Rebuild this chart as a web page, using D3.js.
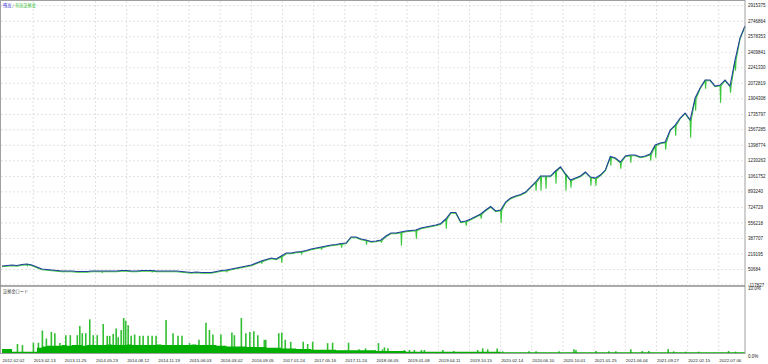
<!DOCTYPE html>
<html>
<head>
<meta charset="utf-8">
<script src="https://cdn.jsdelivr.net/npm/d3@7"></script>
<style>
  body { margin: 0; background: #fff; }
  text { font-family: "Liberation Sans", Arial, sans-serif; }
</style>
</head>
<body>
<div id="chart"></div>
<script>
// DATA (balance sampled every 10 trades)
const balance = [
  88500, 93900, 99400, 93900, 104800, 110200, 99400, 77600, 55900, 50500,
  45100, 39600, 34200, 34200, 34200, 28800, 28800, 28800, 34200, 34200,
  34200, 34200, 34200, 34200, 39600, 39600, 34200, 34200, 39600, 39600,
  39600, 34200, 34200, 34200, 34200, 34200, 28800, 23400, 17900, 23400,
  17900, 17900, 17900, 28800, 39600, 45100, 55900, 66800, 77600, 88500,
  99400, 121100, 142800, 159100, 175400, 164500, 197100, 229700, 229700, 240500,
  245900, 256800, 273100, 283900, 294800, 305700, 316500, 321900, 332800, 338200,
  403400, 403400, 381700, 370800, 354500, 360000, 370800, 414200, 446800, 446800,
  457700, 468500, 474000, 479400, 501100, 512000, 522800, 533700, 550000, 598800,
  669400, 669400, 566300, 577100, 598800, 626000, 653100, 696600, 734600, 685700,
  696600, 783400, 826800, 848600, 864800, 892000, 946300, 1000600, 1065700, 1065700,
  1065700, 1120000, 1166700, 1087400, 1022300, 1044000, 1065700, 1109100, 1054900, 1044000,
  1076600, 1130900, 1277500, 1261200, 1217700, 1282900, 1293700, 1293700, 1272000, 1282900,
  1304600, 1402300, 1424000, 1434900, 1565200, 1619500, 1695500, 1749800, 1673800, 1912600,
  2021200, 2108100, 2108100, 2042900, 2053800, 2108100, 2042900, 2325300, 2564100, 2694400
];

// how far equity fell below balance in each step
const equityDip = [
  0, 0, 0, 0, 0, 11000, 0, 0, 0, 0,
  0, 0, 0, 0, 0, 0, 0, 0, 0, 0,
  8000, 0, 0, 0, 0, 0, 0, 0, 0, 0,
  8000, 0, 0, 0, 0, 0, 0, 0, 0, 0,
  0, 0, 0, 0, 0, 11000, 0, 0, 0, 0,
  0, 0, 22000, 0, 0, 0, 65000, 0, 0, 0,
  16000, 0, 0, 0, 22000, 0, 0, 0, 38000, 0,
  0, 0, 0, 43000, 0, 0, 22000, 0, 0, 0,
  141000, 0, 0, 87000, 0, 0, 0, 0, 0, 98000,
  0, 0, 0, 43000, 0, 0, 43000, 0, 0, 0,
  130000, 0, 0, 0, 0, 0, 0, 87000, 152000, 130000,
  0, 130000, 0, 174000, 76000, 0, 0, 0, 87000, 76000,
  0, 0, 92000, 0, 65000, 0, 76000, 0, 0, 0,
  65000, 130000, 0, 76000, 0, 109000, 0, 0, 185000, 130000,
  0, 87000, 0, 0, 185000, 0, 65000, 109000, 0, 0
];

// margin load (%), base level per step
const loadBase = [
  0.6, 0.6, 0.2, 0.2, 0.2, 0.2, 0.2, 0.8, 1.0, 1.1,
  1.1, 1.1, 1.2, 1.1, 1.2, 1.2, 1.1, 1.2, 1.2, 1.2,
  1.2, 1.3, 1.2, 1.2, 1.2, 1.3, 1.2, 1.2, 1.2, 1.2,
  1.2, 1.3, 1.2, 1.2, 1.2, 1.2, 1.2, 1.2, 1.3, 1.2,
  1.2, 1.2, 1.2, 1.1, 1.1, 1.0, 1.0, 1.0, 1.0, 0.9,
  0.9, 0.9, 0.9, 0.8, 0.8, 0.8, 0.7, 0.7, 0.7, 0.6,
  0.6, 0.6, 0.5, 0.5, 0.5, 0.5, 0.5, 0.4, 0.4, 0.4,
  0.4, 0.4, 0.4, 0.4, 0.4, 0.3, 0.3, 0.3, 0.3, 0.3,
  0.3, 0.2, 0.2, 0.2, 0.2, 0.2, 0.2, 0.2, 0.2, 0.2,
  0.2, 0.2, 0.2, 0.2, 0.2, 0.2, 0.2, 0.2, 0.2, 0.2,
  0.12, 0.12, 0.12, 0.12, 0.12, 0.12, 0.12, 0.12, 0.12, 0.12,
  0.12, 0.12, 0.12, 0.12, 0.12, 0.12, 0.12, 0.12, 0.12, 0.12,
  0.12, 0.12, 0.12, 0.12, 0.12, 0.12, 0.12, 0.12, 0.12, 0.12,
  0.12, 0.12, 0.12, 0.12, 0.12, 0.12, 0.12, 0.12, 0.12, 0.12,
  0.12, 0.12, 0.12, 0.12, 0.12, 0.12, 0.12, 0.12, 0.12, 0.12
];

// margin load spikes: [trade number, %]
const loadSpikes = [
  [9, 0.56], [31, 1.36], [41, 1.2], [63, 1.56], [73, 1.56], [81, 3.4], [89, 2.2], [99, 3.2],
  [106, 3.0], [116, 1.5], [128, 2.7], [137, 2.7], [151, 2.7], [156, 4.1], [161, 3.0], [168, 3.0],
  [176, 5.1], [183, 2.7], [191, 2.7], [203, 4.4], [211, 2.6], [216, 2.6], [223, 2.9], [229, 3.7],
  [233, 2.4], [239, 3.5], [244, 5.3], [248, 4.9], [253, 4.2], [259, 2.6], [266, 2.8], [276, 2.6],
  [283, 2.6], [293, 2.6], [301, 2.6], [309, 2.6], [329, 5.0], [343, 3.0], [353, 2.6], [361, 2.6],
  [376, 1.5], [395, 2.0], [409, 4.6], [416, 3.5], [423, 2.8], [439, 2.8], [461, 3.1], [466, 2.7],
  [480, 5.3], [489, 3.0], [497, 3.2], [505, 3.3], [513, 2.7], [526, 2.0], [529, 2.0], [555, 3.0],
  [561, 3.1], [568, 2.0], [579, 1.7], [604, 1.7], [613, 1.36], [623, 1.7], [653, 1.5], [663, 1.56],
  [695, 1.56], [716, 0.56], [729, 0.7], [755, 1.5], [763, 0.56], [767, 0.86], [774, 0.71], [807, 0.45],
  [817, 0.45], [827, 0.45], [841, 0.45], [847, 0.45], [884, 0.45], [906, 0.3], [954, 0.45], [964, 0.71],
  [974, 0.56], [993, 0.7], [1004, 0.25], [1057, 0.25], [1071, 0.25], [1117, 0.25], [1147, 0.56], [1151, 0.45],
  [1191, 0.3], [1217, 0.25], [1231, 0.25], [1261, 0.56], [1284, 0.3], [1297, 0.3], [1336, 0.6], [1347, 0.25],
  [1371, 0.2], [1397, 0.2], [1457, 0.3], [1471, 0.2]
];

const priceTicks = [2915375, 2746864, 2578353, 2409841, 2241330, 2072819, 1904308, 1735797,
  1567285, 1398774, 1230263, 1061752, 893240, 724729, 556218, 387707, 219195, 50684, -117827];

const dateLabels = ["2012.02.02", "2013.02.13", "2013.11.25", "2014.05.23", "2014.08.12", "2014.11.19",
  "2015.06.03", "2016.03.02", "2016.09.05", "2017.01.24", "2017.05.16", "2017.11.24", "2018.06.05",
  "2019.01.08", "2019.04.11", "2019.10.15", "2020.02.14", "2020.06.10", "2020.10.01", "2021.01.25",
  "2021.06.04", "2021.09.27", "2022.02.15", "2022.07.06"];

// LAYOUT
const width = 768, height = 364;
const plotLeft = 2, plotRight = 745;
const step = 10;          // trades per balance sample
const dateStep = 62.5;    // trades between date labels

const xScale = d3.scaleLinear().domain([0, (balance.length - 1) * step]).range([plotLeft, plotRight]);
const yScale = d3.scaleLinear().domain([-117827, 2915375]).range([285, 5.7]);
const loadScale = d3.scaleLinear().domain([0, 10]).range([353, 287]);

const svg = d3.select("#chart").append("svg")
  .attr("width", width)
  .attr("height", height);

// grid
svg.append("g").selectAll("line")
  .data(priceTicks)
  .join("line")
  .attr("x1", 1).attr("x2", plotRight)
  .attr("y1", d => yScale(d)).attr("y2", d => yScale(d))
  .attr("stroke", "#e2e2e2")
  .attr("stroke-dasharray", "2,2");

svg.append("g").selectAll("line")
  .data(dateLabels.slice(1))
  .join("line")
  .attr("x1", (d, i) => xScale((i + 1) * dateStep))
  .attr("x2", (d, i) => xScale((i + 1) * dateStep))
  .attr("y1", 1).attr("y2", 353)
  .attr("stroke", "#e2e2e2")
  .attr("stroke-dasharray", "2,2");

// equity (green) under balance (blue)
const equityPts = [];
balance.forEach((b, i) => {
  equityPts.push([i * step, b]);
  if (equityDip[i] > 0) {
    equityPts.push([i * step + 1, b - equityDip[i]]);
    equityPts.push([i * step + 2, b]);
  }
});

const line = d3.line().x(d => xScale(d[0])).y(d => yScale(d[1]));

svg.append("path")
  .datum(equityPts)
  .attr("d", line)
  .attr("transform", "translate(0,0.7)")
  .attr("fill", "none")
  .attr("stroke", "#3cc83c")
  .attr("stroke-width", 1.1);

svg.append("path")
  .datum(balance.map((b, i) => [i * step, b]))
  .attr("d", line)
  .attr("fill", "none")
  .attr("stroke", "#213f9c")
  .attr("stroke-width", 1.1);

// margin load panel
svg.append("path")
  .datum(loadBase)
  .attr("d", d3.area()
    .x((d, i) => xScale(i * step))
    .y0(loadScale(0))
    .y1(d => loadScale(d))
    .curve(d3.curveStepAfter))
  .attr("fill", "#00b000");

svg.append("g").selectAll("line")
  .data(loadSpikes)
  .join("line")
  .attr("x1", d => xScale(d[0])).attr("x2", d => xScale(d[0]))
  .attr("y1", loadScale(0)).attr("y2", d => loadScale(d[1]))
  .attr("stroke", "#00b000")
  .attr("stroke-width", 1.6)
  .attr("opacity", 0.8);

// frames
svg.append("rect")
  .attr("x", 0.5).attr("y", 0.5)
  .attr("width", plotRight - 0.5).attr("height", 353)
  .attr("fill", "none")
  .attr("stroke", "#a0a0a0");

svg.append("line")
  .attr("x1", 0).attr("x2", plotRight)
  .attr("y1", 286).attr("y2", 286)
  .attr("stroke", "#909090")
  .attr("stroke-width", 1.5);

// right axis labels
svg.append("g").selectAll("text")
  .data(priceTicks)
  .join("text")
  .attr("x", 748)
  .attr("y", d => yScale(d))
  .attr("dy", "0.35em")
  .attr("font-size", 4.5)
  .attr("fill", "#222")
  .text(d => d);

svg.append("text").attr("x", 748).attr("y", 288.5).attr("dy", "0.35em")
  .attr("font-size", 4.5).attr("fill", "#222").text("10.0%");
svg.append("text").attr("x", 748).attr("y", 356.5).attr("dy", "0.35em")
  .attr("font-size", 4.5).attr("fill", "#222").text("0.0%");

// date labels
svg.append("g").selectAll("text")
  .data(dateLabels)
  .join("text")
  .attr("x", (d, i) => xScale(i * dateStep) + 0.5)
  .attr("y", 360)
  .attr("dy", "0.35em")
  .attr("font-size", 4.4)
  .attr("fill", "#222")
  .text(d => d);

// titles
const title = svg.append("text")
  .attr("x", 3).attr("y", 6)
  .attr("dy", "0.35em")
  .attr("font-size", 4.2)
  .style("font-family", "'Noto Sans CJK JP', sans-serif");
title.append("tspan").attr("fill", "#3a3ad0").text("残高");
title.append("tspan").attr("fill", "#555").text(" / ");
title.append("tspan").attr("fill", "#3cbf3c").text("有効証拠金");

svg.append("text")
  .attr("x", 3).attr("y", 292)
  .attr("dy", "0.35em")
  .attr("font-size", 4.2)
  .attr("fill", "#444")
  .style("font-family", "'Noto Sans CJK JP', sans-serif")
  .text("証拠金ロード");
</script>
</body>
</html>
